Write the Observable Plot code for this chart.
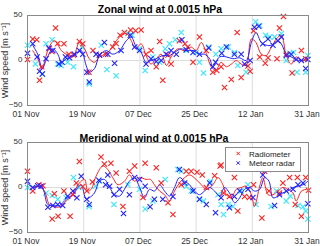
<!DOCTYPE html>
<html><head><meta charset="utf-8">
<script src="https://cdn.jsdelivr.net/npm/d3@7"></script>
<script src="https://cdn.jsdelivr.net/npm/@observablehq/plot@0.6"></script>
<style>
html,body{margin:0;padding:0;background:#fff;}
#wrap{position:relative;width:320px;height:246px;font-family:"Liberation Sans",Arial,sans-serif;overflow:hidden;}
#wrap svg{display:block;}
</style></head>
<body><div id="wrap"></div>
<script>
const xTicks = [0, 18.2, 36.4, 54.6, 72.8, 91];
const xTickLabels = ["01 Nov","19 Nov","07 Dec","25 Dec","12 Jan","31 Jan"];
const yTicks = [-50, 0, 50];
const titles = ["Zonal wind at 0.0015 hPa", "Meridional wind at 0.0015 hPa"];
const yLabel = "Wind speed [m s⁻¹]";
const legendLabels = ["Radiometer", "Meteor radar"];

// Zonal wind: [day since 01 Nov, m/s]
const zonalRadLine = [[1.7,11],[3.3,2],[4.7,-9],[6,5],[7,15],[8.7,22],[11,11],[12.5,7],[14.7,4],[16.8,20],[18.5,13],[20,2],[21.7,-2],[23.3,4],[25,7],[26.6,11],[28,18.5],[29.8,26],[32,30],[33.6,22],[35,13],[36.8,18.5],[38.4,5.5],[40,-4],[41.7,2],[43.3,7],[45,-5.5],[46.5,4],[48.7,13],[50.9,11],[53,15],[54.6,11],[56.3,20],[58,7],[59.5,-7],[61,-11],[62.7,-2],[64.4,-7],[66,-4],[67.6,0],[69.2,-4],[70.8,-5.5],[72.5,24],[74,20],[75.7,7],[77.3,5.5],[79,15],[80.6,24],[82.2,28],[83.8,5.5],[85.4,-4],[87,4],[88.7,0],[90.8,1]];
const zonalRadarLine = [[1.7,17],[3.3,7],[4.8,-9],[6,0],[8.2,13],[9.8,7],[11,-2],[12.5,2],[14.1,4],[15.8,7],[17.4,11],[19,-5.5],[20,-13],[21.7,-9],[23.3,5.5],[25.5,11],[27.6,7],[29.8,11],[32,22],[33.6,26],[35.2,15],[36.8,9],[38.4,-2],[40,0],[41.7,2],[43.8,5.5],[46,5.5],[47.6,9],[49.8,13],[51.4,11],[53.6,11],[55.7,7],[57.3,7],[59,2],[60,-7],[62.2,4],[64.4,4],[66.5,2],[68.7,3],[70.8,0],[72.5,20],[74,31],[75.7,20],[77.3,17],[79,17],[81,22],[82.2,18.5],[83.8,7],[85.4,4],[87,1],[88.7,0],[90.8,2]];
const zonalRadPts = [[0,1],[1.7,24],[3,23],[3.9,-22],[4.6,-7],[7.1,13],[7.9,10],[9.1,36],[9.8,19],[11.8,18.5],[13.4,7],[14.9,6],[16.8,21],[17.9,18.5],[19.9,-13],[21.2,11],[23.3,6],[25.3,7],[27.6,15],[28.7,19],[30,28],[31.4,31],[33.4,34],[35,33],[36.8,34],[38.4,7],[40,11],[41.7,-7],[42.8,21],[43.8,-22],[45.5,6],[46.5,-4],[49.2,22],[51,18.5],[51.9,15],[53.6,-2],[55.7,26],[57.9,11],[60,-13],[61.3,-11],[62.7,-7],[63.8,-30],[66,-21],[67.9,31],[69.2,-19],[71.4,-6],[72.1,-12],[73.2,33],[75.2,4],[77,-3],[77.9,3],[80.8,2],[81.6,36],[82.9,49],[83.8,7],[85.7,-14],[88.7,11],[90.1,2]];
const zonalCyanPts = [[0,17],[2.6,-4],[4.8,-15],[6,18.5],[8,23],[9.8,-4],[10.9,-5.5],[13,-2],[14.9,-7],[17.7,15],[20,-26],[23.9,17],[25.7,-10],[28.7,-17],[32.5,30],[33.9,28],[36.3,13],[38.1,-11],[40.6,4],[42.8,-2],[44.6,13],[46,18.5],[47.9,23],[49.8,31],[51.4,11],[54.6,9],[55.7,-2],[57,-14],[58.7,15],[61,7],[62.7,13],[65,15],[67,9],[68.1,-5.5],[70.8,-13],[73.9,43],[75.2,39],[77.1,28],[78.4,26],[80,26],[82.2,30],[83.8,0],[84.9,8],[86.2,9],[87.3,-13],[90.1,-13],[90.8,5.5]];
const zonalRadarPts = [[0,8],[1.7,18.5],[3.1,4],[3.9,-12],[4.8,-15],[6,2],[6.9,14],[8.2,11],[10.2,-4],[11.2,-2],[12.3,4],[13.6,3],[15.2,7],[16.8,11],[17.9,7],[19.2,-13],[20,-24],[22.2,7],[23.3,6],[24.9,20],[26,7],[28.2,-3],[30.3,11],[33.3,28],[34.7,15],[36.3,11],[38.4,-4],[40,2],[41.7,-1],[43.3,0],[44.9,7],[46.5,11],[48.2,7],[50,23],[51.4,12],[53.6,9],[55.7,7],[58.7,14],[60,-7],[60.9,-2],[62.9,8],[64.4,15],[67,7],[69.2,7],[70.3,-4],[72.1,0],[73.5,37],[74.9,38],[76.2,18.5],[77.9,24],[79.5,17],[81.1,22],[82.2,26],[83.8,5.5],[85.4,7],[87,1],[88.7,0],[90.1,-9],[90.8,1]];

// Meridional wind
const meridRadLine = [[1.7,0],[3.9,1.5],[5.5,-4],[7.1,-19],[8.7,-21.5],[10.4,-21.5],[11.9,-17],[13.6,-11.5],[15.2,-4],[16.8,5],[18.5,9],[19.5,-4],[20.6,-2],[22.2,12.6],[24.4,24],[26,20],[27.6,11],[29.3,3],[31.4,7],[33,14],[34.7,7],[36.3,11],[38.4,9],[39.8,9],[41.1,3],[42.8,-4],[44.4,-8],[46,-15],[47.6,-4],[49.2,5],[50.9,11],[52.5,14],[54.6,9],[56.3,3],[57.9,-2],[60,3],[61.7,11],[63.3,3],[64.4,-8],[66,-11.5],[67.6,-2],[69.2,0],[70.8,1.5],[72.5,-8],[73.5,-21],[75.2,1.5],[76.2,11],[77.9,-8],[79.5,-8],[81.1,-4],[82.7,0],[84.3,-2],[86,-6],[87,-15],[88.7,-4],[90.3,-2]];
const meridRadarLine = [[0,5],[1.7,0],[3.3,1.5],[5,-2],[6.6,-19],[8.7,-20],[10.4,-20],[11.4,-17],[13,-11.5],[14.7,-8],[16.3,0],[17.4,3],[19,-13],[20,-11.5],[21.7,-6],[23.3,7],[24.9,9],[26.6,0],[28.2,-8],[29.8,-9.6],[31.4,-2],[33,7],[34.7,11],[36.3,0],[37.9,-11.5],[39.5,-2],[41.1,-4],[42.8,3],[44.4,-4],[46,-9.6],[47.6,0],[49.2,11],[50.9,7],[52.5,3],[54.1,-4],[55.7,-8],[57.3,-4],[59,0],[60.6,-4],[62.2,-9.6],[63.8,0],[65.4,-6],[67.1,-17],[68.7,-11.5],[70.3,-2],[71.9,0],[73.5,-4],[75.2,-2],[76.8,11],[78.2,7],[79.5,-11.5],[81.1,-9.6],[82.7,-6],[84.3,-4],[86,0],[87.6,1.5],[89.2,3],[90.8,7]];
const meridRadPts = [[0,18],[1.7,-4],[3.7,3],[5,2],[8,-35],[8.7,-7],[9.9,-32],[11.8,-4],[13.8,-32],[14.7,-8],[15.8,5],[16.8,29],[17.9,1],[19.2,-4],[21,6],[23.8,34],[24.9,26],[27,27],[28.7,16],[30.9,-21],[33,18],[34.7,24],[37.4,-11],[38.1,27],[41.7,22],[43.3,5],[45.5,-17],[47.1,-30],[49.8,3],[51.4,18],[53,18],[54.9,17],[56.6,14],[57.9,0],[60.6,13],[62.4,24],[62.7,25],[63.5,-6],[65.4,-10],[67,11],[68.1,-26],[70.3,-10],[71.9,-11],[73.2,3],[75.9,-34],[76.8,18],[78.2,-4],[81.6,-6],[82.7,5],[84.9,11],[86.7,-19],[87.4,11],[88.7,-32],[90.1,11],[91,-3]];
const meridCyanPts = [[0,0],[6,-6],[8,-9],[9.8,-13],[12.5,-11.5],[14.9,11],[16.6,0],[19.9,-21.5],[22,1.5],[23.3,7],[28,-19],[32.5,3],[36.3,-2],[38.1,-24],[40.6,-15],[44.6,9],[48.7,20],[49.8,18],[51.4,1],[53,-4],[55.7,-13],[57,-15],[59.2,7],[61.7,-8],[62.7,-19],[63.5,-30],[65,-19],[66.5,-21],[69.2,-4],[71.4,3],[74,-19],[76.2,20],[78.9,-21],[80.6,-4],[83.8,-15],[85.1,-9.6],[87.6,-20],[89.2,-21.5],[90.1,-26],[90.8,-35]];
const meridRadarPts = [[0,7],[1.7,0],[3.3,2],[4.4,1.5],[6.6,-22],[8.2,-20],[9.8,-19],[11.4,-20],[13,-9.6],[14.7,-4],[16,-11.5],[17.4,12.6],[19.2,-13],[20,-19],[23.1,8],[25.3,3],[26,14],[26.6,1.5],[28,-8],[29.8,-2],[31.1,-29],[33,-8],[34.7,11],[36.3,9],[38.1,1.5],[39.7,-21.5],[41.1,-13],[43.8,-13],[47.1,-10],[49.2,20],[50.9,5],[53.6,-4],[55.7,-13],[57.9,-19],[59,5],[60.9,-28],[62.7,-11.5],[65.4,-22.5],[67,-10],[68.7,-4],[71.4,-2],[73,-11],[76.2,14],[77.9,20],[80,-20],[81.6,-8],[83.8,-4],[86,-2],[87.6,3],[89.2,5],[90.8,-18]];

const RED = "#ff2222", BLUE = "#2222ff", CYAN = "#33e8ff";

function panel(cfg) {
  return Plot.plot({
    width: 320, height: cfg.h,
    marginTop: cfg.mt, marginBottom: cfg.mb, marginLeft: 27, marginRight: 12,
    style: {fontFamily: "'Liberation Sans', Arial, sans-serif", fontSize: "8.5px", background: "white", color: "#333", overflow: "visible"},
    x: {domain: [0, 91]},
    y: {domain: [-50, 50]},
    marks: [
      Plot.gridX(xTicks, {stroke: "#dcdcdc", strokeOpacity: 1}),
      Plot.gridY(yTicks, {stroke: "#dcdcdc", strokeOpacity: 1}),
      Plot.axisX(xTicks, {tickFormat: d => xTickLabels[xTicks.indexOf(d)], tickSize: 0, tickPadding: 5, dx: -1.5, label: null}),
      Plot.axisY(yTicks, {tickSize: 0, tickPadding: 5, dy: -1.5, fontSize: 8, label: null}),
      Plot.axisY([], {tickSize: 0, fontSize: 9, label: yLabel, labelAnchor: "center", labelArrow: "none", labelOffset: 26}),
      Plot.dot(cfg.cyan, {x: d => d[0], y: d => d[1], symbol: "times", r: 2.5, stroke: CYAN, strokeWidth: 1.1}),
      Plot.line(cfg.radLine, {x: d => d[0], y: d => d[1], stroke: RED, strokeWidth: 1, curve: "catmull-rom"}),
      Plot.line(cfg.radarLine, {x: d => d[0], y: d => d[1], stroke: BLUE, strokeWidth: 1, curve: "catmull-rom"}),
      Plot.dot(cfg.rad, {x: d => d[0], y: d => d[1], symbol: "times", r: 2.5, stroke: RED, strokeWidth: 1.1}),
      Plot.dot(cfg.radar, {x: d => d[0], y: d => d[1], symbol: "times", r: 2.5, stroke: BLUE, strokeWidth: 1.1}),
      Plot.frame({stroke: "#8a8a8a"}),
      Plot.text([cfg.title], {frameAnchor: "top", dy: cfg.tdy, dx: cfg.tdx, fontWeight: "bold", fontSize: 10.5, fill: "#000"})
    ]
  });
}

const wrap = document.getElementById("wrap");
wrap.appendChild(panel({h: 123, mt: 15, mb: 18, title: titles[0], tdy: -10, tdx: -8, cyan: zonalCyanPts, radLine: zonalRadLine, radarLine: zonalRadarLine, rad: zonalRadPts, radar: zonalRadarPts}));
wrap.appendChild(panel({h: 123, mt: 19, mb: 14, title: titles[1], tdy: -8, tdx: -14, cyan: meridCyanPts, radLine: meridRadLine, radarLine: meridRadarLine, rad: meridRadPts, radar: meridRadarPts}));

// legend
const ns = "http://www.w3.org/2000/svg";
const lg = document.createElementNS(ns, "svg");
lg.setAttribute("width", 76); lg.setAttribute("height", 25);
lg.style.position = "absolute"; lg.style.left = "225px"; lg.style.top = "147px";
const box = document.createElementNS(ns, "rect");
box.setAttribute("x", 0.5); box.setAttribute("y", 0.5); box.setAttribute("width", 75); box.setAttribute("height", 24);
box.setAttribute("fill", "white"); box.setAttribute("stroke", "#8a8a8a");
lg.appendChild(box);
[[RED, legendLabels[0], 6.5], [BLUE, legendLabels[1], 16]].forEach(([c, t, y]) => {
  const p = document.createElementNS(ns, "path");
  p.setAttribute("d", `M11.5,${y-1.7}l3.4,3.4M11.5,${y+1.7}l3.4,-3.4`);
  p.setAttribute("stroke", c); p.setAttribute("stroke-width", 1);
  lg.appendChild(p);
  const tx = document.createElementNS(ns, "text");
  tx.setAttribute("x", 24); tx.setAttribute("y", y + 3);
  tx.setAttribute("font-size", 8); tx.setAttribute("fill", "#222");
  tx.setAttribute("font-family", "'Liberation Sans', Arial, sans-serif");
  tx.textContent = t;
  lg.appendChild(tx);
});
wrap.appendChild(lg);
</script>
</body></html>
